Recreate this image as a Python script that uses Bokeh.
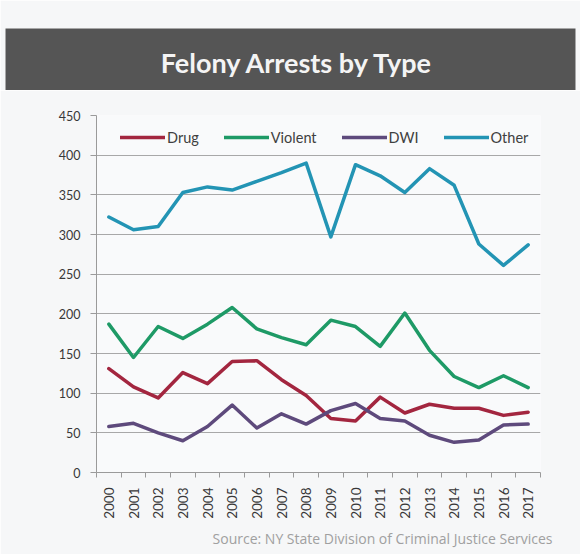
import math
from bokeh.plotting import figure
from bokeh.layouts import column
from bokeh.models import (ColumnDataSource, Range1d, FixedTicker, Title, Legend)
from bokeh.core.properties import value
from bokeh.embed import file_html
from bokeh.resources import INLINE

years = ["2000", "2001", "2002", "2003", "2004", "2005", "2006", "2007", "2008",
         "2009", "2010", "2011", "2012", "2013", "2014", "2015", "2016", "2017"]
drug = [131, 108, 94, 126, 112, 140, 141, 117, 97, 68, 65, 95, 75, 86, 81, 81, 72, 76]
violent = [187, 145, 184, 169, 187, 208, 181, 170, 161, 192, 184, 159, 201, 154, 121, 107, 122, 107]
dwi = [58, 62, 50, 40, 58, 85, 56, 74, 61, 78, 87, 68, 65, 47, 38, 41, 60, 61]
other = [322, 306, 310, 353, 360, 356, 367, 378, 390, 297, 388, 374, 353, 383, 362, 288, 261, 287]
y_ticks = [0, 50, 100, 150, 200, 250, 300, 350, 400, 450]

series_names = ["Drug", "Violent", "DWI", "Other"]
series_colors = ["#a3263f", "#1e9a66", "#5e4a7c", "#2394b4"]

TITLE = "Felony Arrests by Type"
SOURCE = "Source: NY State Division of Criminal Justice Services"

W = 580
PAGE_BG = "#f6f7f8"

# ---------------- banner ----------------
banner = figure(width=W, height=90, output_backend="svg", toolbar_location=None,
                x_axis_type=None, y_axis_type=None,
                x_range=Range1d(0, 1), y_range=Range1d(0, 1),
                min_border_top=28, min_border_bottom=0, min_border_left=5, min_border_right=5)
if "frame_align" in banner.properties():
    banner.frame_align = False
banner.background_fill_color = "#555555"
banner.border_fill_color = PAGE_BG
banner.outline_line_color = None
banner.grid.visible = False
banner.text(x=[0.512], y=[0.45], text=[TITLE], text_color="#f4f4f4",
            text_font=value("Lato"), text_font_size="27px", text_font_style="bold",
            text_align="center", text_baseline="middle")

# ---------------- main chart ----------------
x_idx = list(range(len(years)))
src = ColumnDataSource(dict(x=x_idx, drug=drug, violent=violent, dwi=dwi, other=other))

p = figure(width=W, height=464, output_backend="svg", toolbar_location=None,
           x_range=Range1d(-0.5, len(years) - 0.5), y_range=Range1d(0, 450),
           min_border_left=96, min_border_right=40, min_border_top=25, min_border_bottom=82)
if "frame_align" in p.properties():
    p.frame_align = False
p.background_fill_color = "#f9fafb"
p.border_fill_color = PAGE_BG
p.outline_line_color = None

renderers = []
for name, col, key in zip(series_names, series_colors, ["drug", "violent", "dwi", "other"]):
    r = p.line(x="x", y=key, source=src, line_color=col, line_width=3.5,
               line_join="round", line_cap="round")
    renderers.append((name, [r]))

legend = Legend(items=renderers, orientation="horizontal", location=(24, 325),
                padding=0, margin=0, spacing=25, glyph_width=45, glyph_height=20,
                label_standoff=2, label_text_font="Lato", label_text_font_size="14.5px",
                label_text_color="#404040", background_fill_alpha=0,
                border_line_color=None)
p.add_layout(legend, "center")

# x axis
xa = p.xaxis[0]
xa.ticker = FixedTicker(ticks=x_idx, minor_ticks=[i - 0.5 for i in range(len(years) + 1)])
xa.major_label_overrides = {i: y for i, y in zip(x_idx, years)}
xa.major_label_orientation = math.pi / 2
xa.major_tick_out = 0
xa.major_tick_in = 0
xa.minor_tick_out = 5
xa.minor_tick_in = 0
xa.minor_tick_line_color = "#9a9a9a"
xa.axis_line_color = "#9a9a9a"
xa.major_label_standoff = 10
xa.major_label_text_font = "Lato"
xa.major_label_text_font_size = "13.5px"
xa.major_label_text_color = "#383838"
p.xgrid.visible = False

# y axis
ya = p.yaxis[0]
ya.ticker = FixedTicker(ticks=y_ticks)
ya.axis_line_color = "#9a9a9a"
ya.major_tick_line_color = "#9a9a9a"
ya.major_tick_out = 6
ya.major_tick_in = 0
ya.minor_tick_out = 0
ya.major_label_standoff = 10
ya.major_label_text_font = "Lato"
ya.major_label_text_font_size = "12.5px"
ya.major_label_text_color = "#383838"
p.ygrid.ticker = FixedTicker(ticks=y_ticks)
p.ygrid.grid_line_color = "#a8a8a8"
p.ygrid.grid_line_width = 1

src_title = Title(text=SOURCE, align="right", text_font="Open Sans",
                  text_font_size="14px", text_font_style="normal",
                  text_color="#a0a0a0", standoff=11, offset=-12)
p.add_layout(src_title, "below")

layout = column(banner, p, spacing=0)
open("out.html", "w").write(file_html(layout, INLINE))
